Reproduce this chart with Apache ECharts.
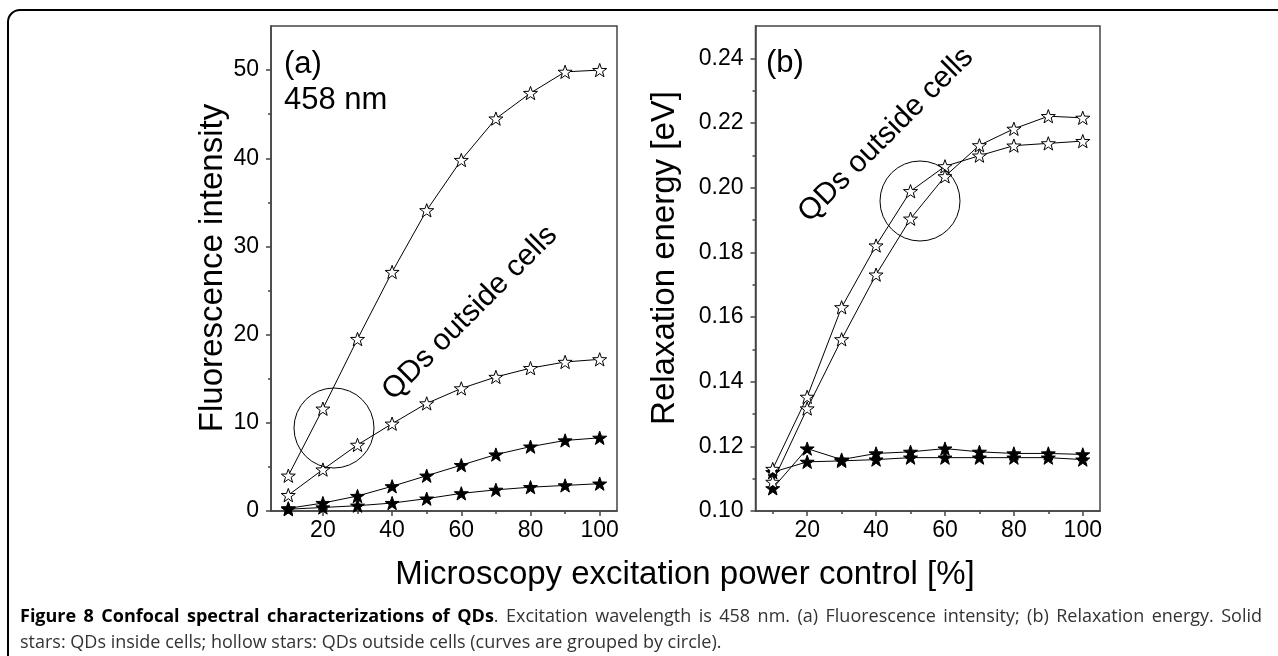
<!DOCTYPE html>
<html>
<head>
<meta charset="utf-8">
<script src="https://cdn.jsdelivr.net/npm/echarts@6/dist/echarts.min.js"></script>
<style>
  html, body { margin: 0; padding: 0; background: #fff; }
  #chart { width: 1278px; height: 656px; }
</style>
</head>
<body>
<div id="chart"></div>
<script>
// excitation power [%]
const power = [10, 20, 30, 40, 50, 60, 70, 80, 90, 100]

// (a) fluorescence intensity
const fluorOut1 = [4.0, 11.6, 19.5, 27.1, 34.1, 39.8, 44.5, 47.4, 49.8, 50.0]
const fluorOut2 = [1.8, 4.7, 7.5, 9.9, 12.2, 13.9, 15.2, 16.2, 16.9, 17.2]
const fluorIn1 = [0.3, 0.9, 1.7, 2.8, 4.0, 5.2, 6.4, 7.3, 8.0, 8.3]
const fluorIn2 = [0.2, 0.4, 0.6, 0.9, 1.4, 2.0, 2.4, 2.7, 2.9, 3.1]

// (b) relaxation energy [eV]
const relaxOut1 = [0.113, 0.1353, 0.163, 0.1821, 0.1989, 0.2066, 0.2099, 0.2130, 0.2137, 0.2144]
const relaxOut2 = [0.109, 0.1317, 0.1531, 0.1731, 0.1904, 0.2035, 0.2131, 0.2182, 0.2221, 0.2216]
const relaxIn1 = [0.107, 0.1193, 0.1159, 0.1178, 0.1183, 0.1193, 0.1183, 0.1178, 0.1178, 0.1175]
const relaxIn2 = [0.112, 0.1152, 0.1155, 0.1159, 0.1165, 0.1165, 0.1165, 0.1165, 0.1165, 0.1159]

// tick labels
const xMajor = [20, 40, 60, 80, 100]
const xMinor = [10, 30, 50, 70, 90]
const fluorMajor = [0, 10, 20, 30, 40, 50]
const fluorMinor = [5, 15, 25, 35, 45]
const relaxMajor = [0.10, 0.12, 0.14, 0.16, 0.18, 0.20, 0.22, 0.24]
const relaxMinor = [0.11, 0.13, 0.15, 0.17, 0.19, 0.21, 0.23]

// caption
const captionBold = 'Figure 8 Confocal spectral characterizations of QDs'
const captionLine1 = '. Excitation wavelength is 458 nm. (a) Fluorescence intensity; (b) Relaxation energy. Solid'
const captionLine2 = 'stars: QDs inside cells; hollow stars: QDs outside cells (curves are grouped by circle).'

const STAR = 'path://M50 0 L61.76 33.82 L97.55 34.55 L69.02 56.18 L79.39 90.45 L50 70 L20.61 90.45 L30.98 56.18 L2.45 34.55 L38.24 33.82 Z'
const FONT = '"Liberation Sans", Arial, sans-serif'
const CAPTION_FONT = '"Open Sans", sans-serif'
const AXIS_COLOR = '#444'

const pairs = (ys) => ys.map((y, i) => [power[i], y])

function makeAxis(gridIndex, min, max, major, minor, isY, fmt) {
  const base = {
    gridIndex: gridIndex,
    type: 'value',
    position: isY ? 'left' : 'bottom',
    min: min,
    max: max,
    splitLine: { show: false }
  }
  return [
    Object.assign({}, base, {
      axisLine: { show: true, onZero: false, lineStyle: { color: AXIS_COLOR, width: 1.5 } },
      axisTick: { show: true, customValues: major, length: 5, lineStyle: { color: AXIS_COLOR, width: 1.5 } },
      axisLabel: {
        show: true,
        customValues: major,
        margin: isY ? 12 : 8,
        color: '#000',
        fontSize: 23,
        fontFamily: FONT,
        formatter: fmt
      }
    }),
    // minor ticks only
    Object.assign({}, base, {
      axisLine: { show: false, onZero: false },
      axisTick: { show: true, customValues: minor, length: 3, lineStyle: { color: AXIS_COLOR, width: 1.5 } },
      axisLabel: { show: false }
    })
  ]
}

function starSeries(name, data, xi, yi, solid) {
  return {
    name: name,
    type: 'line',
    xAxisIndex: xi,
    yAxisIndex: yi,
    data: pairs(data),
    symbol: STAR,
    symbolSize: 14,
    symbolKeepAspect: true,
    showAllSymbol: true,
    lineStyle: { color: '#000', width: 1 },
    itemStyle: {
      color: solid ? '#000' : '#fff',
      borderColor: '#000',
      borderWidth: 1
    },
    z: solid ? 3 : 4
  }
}

// first caption line is justified to the frame width, so lay out word by word
function justifiedLine(x0, x1, y, size) {
  const ctx = document.createElement('canvas').getContext('2d')
  const words = []
  captionBold.split(' ').forEach(w => words.push({ text: w, bold: true }))
  // the period right after the bold title sticks to it
  const rest = captionLine1.split(' ')
  words[words.length - 1].tail = rest[0]
  rest.slice(1).forEach(w => words.push({ text: w, bold: false }))

  let total = 0
  words.forEach(w => {
    ctx.font = (w.bold ? 'bold ' : '') + size + 'px ' + CAPTION_FONT
    w.width = ctx.measureText(w.text).width
    if (w.tail) {
      ctx.font = size + 'px ' + CAPTION_FONT
      w.tailWidth = ctx.measureText(w.tail).width
      w.width += w.tailWidth
    }
    total += w.width
  })
  const gap = (x1 - x0 - total) / (words.length - 1)
  const els = []
  let x = x0
  words.forEach(w => {
    const head = w.width - (w.tailWidth || 0)
    els.push({
      type: 'text', x: x, y: y,
      style: {
        text: w.text, fontSize: size, fontFamily: CAPTION_FONT,
        fontWeight: w.bold ? 'bold' : 'normal', fill: w.bold ? '#000' : '#333', verticalAlign: 'middle'
      }
    })
    if (w.tail) {
      els.push({
        type: 'text', x: x + head, y: y,
        style: { text: w.tail, fontSize: size, fontFamily: CAPTION_FONT, fill: '#333', verticalAlign: 'middle' }
      })
    }
    x += w.width + gap
  })
  return els
}

function renderChart() {
  const chart = echarts.init(document.getElementById('chart'), null, { renderer: 'canvas' })

  const xA = makeAxis(0, 5, 105, xMajor, xMinor, false)
  const xB = makeAxis(1, 5, 105, xMajor, xMinor, false)
  const yA = makeAxis(0, 0, 55, fluorMajor, fluorMinor, true)
  const yB = makeAxis(1, 0.10, 0.25, relaxMajor, relaxMinor, true, (v) => v.toFixed(2))

  const option = {
    animation: false,
    backgroundColor: '#fff',
    grid: [
      { left: 271, top: 26, width: 346, height: 485, show: true, borderColor: AXIS_COLOR, borderWidth: 1.5, backgroundColor: 'transparent' },
      { left: 755.5, top: 26, width: 344.5, height: 485, show: true, borderColor: AXIS_COLOR, borderWidth: 1.5, backgroundColor: 'transparent' }
    ],
    xAxis: [xA[0], xA[1], xB[0], xB[1]],
    yAxis: [yA[0], yA[1], yB[0], yB[1]],
    series: [
      starSeries('outside 1', fluorOut1, 0, 0, false),
      starSeries('outside 2', fluorOut2, 0, 0, false),
      starSeries('inside 1', fluorIn1, 0, 0, true),
      starSeries('inside 2', fluorIn2, 0, 0, true),
      starSeries('outside 1', relaxOut1, 2, 2, false),
      starSeries('outside 2', relaxOut2, 2, 2, false),
      starSeries('inside 1', relaxIn1, 2, 2, true),
      starSeries('inside 2', relaxIn2, 2, 2, true)
    ],
    graphic: [
      // figure frame (runs off the right / bottom edge)
      {
        type: 'rect',
        shape: { x: 8, y: 10, width: 1400, height: 900, r: 12 },
        style: { fill: 'none', stroke: '#000', lineWidth: 2 },
        silent: true
      },
      // grouping circles
      { type: 'circle', shape: { cx: 334, cy: 428, r: 40 }, style: { fill: 'none', stroke: '#000', lineWidth: 1 }, z: 10 },
      { type: 'circle', shape: { cx: 920, cy: 201, r: 40 }, style: { fill: 'none', stroke: '#000', lineWidth: 1 }, z: 10 },
      {
        type: 'text', x: 470, y: 313, rotation: Math.PI / 4, z: 10,
        style: { text: 'QDs outside cells', font: '30px ' + FONT, fill: '#000', align: 'center', verticalAlign: 'middle' }
      },
      {
        type: 'text', x: 886, y: 135, rotation: Math.PI / 4, z: 10,
        style: { text: 'QDs outside cells', font: '30px ' + FONT, fill: '#000', align: 'center', verticalAlign: 'middle' }
      },
      // panel labels
      { type: 'text', x: 284, y: 64, z: 10, style: { text: '(a)', font: '31px ' + FONT, fill: '#000', verticalAlign: 'middle' } },
      { type: 'text', x: 284, y: 100, z: 10, style: { text: '458 nm', font: '31px ' + FONT, fill: '#000', verticalAlign: 'middle' } },
      { type: 'text', x: 766, y: 63, z: 10, style: { text: '(b)', font: '31px ' + FONT, fill: '#000', verticalAlign: 'middle' } },
      // axis names
      {
        type: 'text', x: 213, y: 268, rotation: Math.PI / 2,
        style: { text: 'Fluorescence intensity', font: '33px ' + FONT, fill: '#000', align: 'center', verticalAlign: 'middle' }
      },
      {
        type: 'text', x: 665, y: 258, rotation: Math.PI / 2,
        style: { text: 'Relaxation energy [eV]', font: '33px ' + FONT, fill: '#000', align: 'center', verticalAlign: 'middle' }
      },
      {
        type: 'text', x: 685, y: 575,
        style: { text: 'Microscopy excitation power control [%]', font: '33px ' + FONT, fill: '#000', align: 'center', verticalAlign: 'middle' }
      }
    ].concat(justifiedLine(20, 1262, 617, 18), [
      {
        type: 'text', x: 20, y: 643,
        style: {
          text: captionLine2,
          fontSize: 18,
          fontFamily: CAPTION_FONT,
          fill: '#333',
          verticalAlign: 'middle'
        }
      }
    ])
  }
  chart.setOption(option)
}

renderChart()
</script>
</body>
</html>
